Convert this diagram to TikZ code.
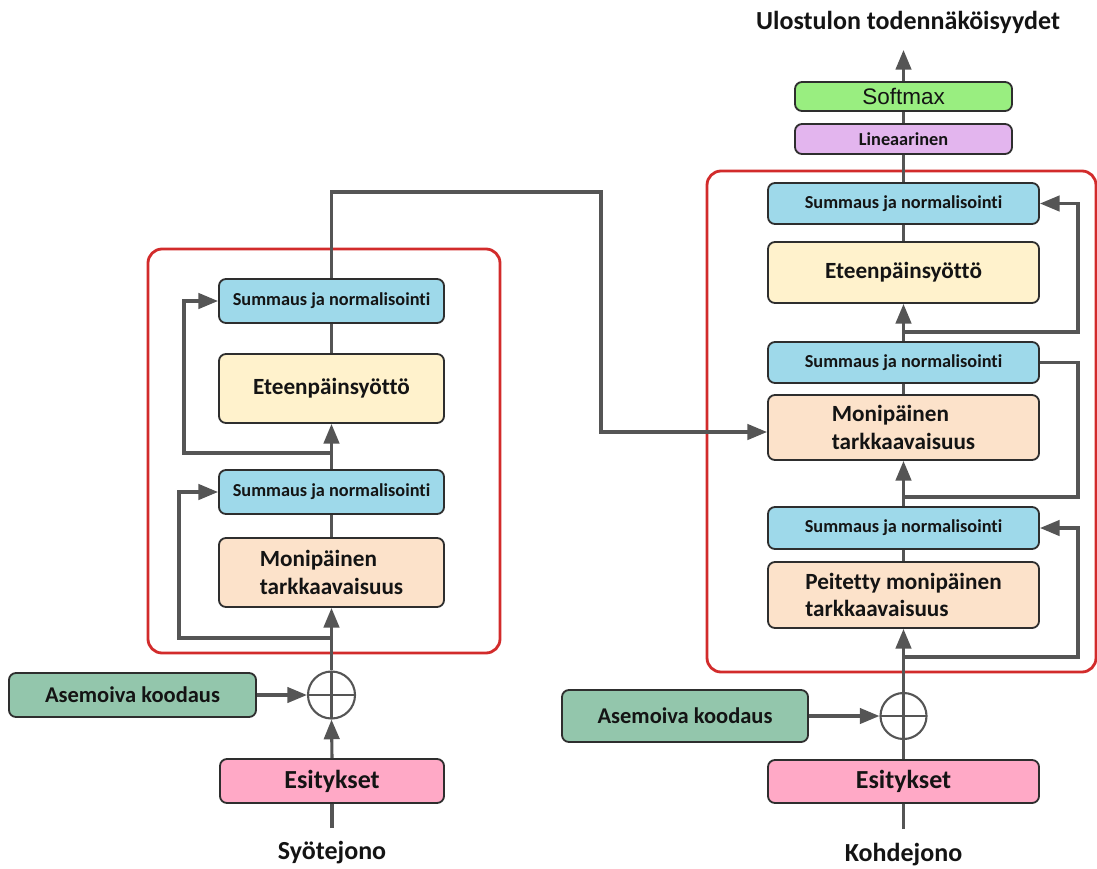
\documentclass[tikz,border=0pt]{standalone}
\usepackage{fontspec}
\setmainfont{Carlito}[Ligatures={NoCommon}]
\newfontfamily\arialfont{Liberation Sans}
\usetikzlibrary{arrows.meta}

\definecolor{snblue}{HTML}{9ED9EA}
\definecolor{ffyellow}{HTML}{FFF2CC}
\definecolor{mhapeach}{HTML}{FCE2CA}
\definecolor{posgreen}{HTML}{93C6AC}
\definecolor{embpink}{HTML}{FFA9C6}
\definecolor{smgreen}{HTML}{99EE80}
\definecolor{linviolet}{HTML}{E3B5EE}
\definecolor{framered}{HTML}{D22B2B}
\definecolor{wire}{HTML}{555555}
\definecolor{boxline}{HTML}{2E2E2E}
\definecolor{txt}{HTML}{141414}

\begin{document}
\begin{tikzpicture}[x=0.025cm,y=-0.025cm,
  box/.style={draw=boxline, line width=1.3pt, rounded corners=5pt, inner sep=0pt,
    text=txt, font=\bfseries\fontsize{16.5}{19.5}\selectfont},
  encbox/.style={box, minimum width=5.625cm},
  decbox/.style={box, minimum width=6.775cm},
  snfont/.style={font=\bfseries\fontsize{13}{15}\selectfont},
  frame/.style={draw=framered, line width=2pt, rounded corners=10pt},
  wireline/.style={draw=wire, line width=2.2pt},
  arr/.style={wireline, -{Triangle[length=14pt,width=11pt]}},
  adder/.style={circle, draw=wire, line width=1.5pt, minimum size=1.175cm, inner sep=0pt,
    path picture={\draw[wire, line width=1.5pt]
      (path picture bounding box.north) -- (path picture bounding box.south)
      (path picture bounding box.west) -- (path picture bounding box.east);}},
  caption/.style={text=txt, font=\bfseries\fontsize{18.5}{22}\selectfont, inner sep=0pt}
]
\useasboundingbox (0,0) rectangle (1097,868);

% layer frames
\draw[frame] (148,249) rectangle (500,653);
\draw[frame] (707,171) rectangle (1096,672);

% ---------- encoder ----------
\node[encbox, snfont, fill=snblue, minimum height=1.1cm] (encSN2) at (331.5,301) {Summaus ja normalisointi};
\node[encbox, fill=ffyellow, minimum height=1.725cm] (encFF) at (331.5,388.5) {Eteenpäinsyöttö};
\node[encbox, snfont, fill=snblue, minimum height=1.1cm] (encSN1) at (331.5,492) {Summaus ja normalisointi};
\node[encbox, fill=mhapeach, minimum height=1.725cm, align=left] (encMHA) at (331.5,572.5) {Monipäinen\\tarkkaavaisuus};
\node[adder] (encAdd) at (331.5,695) {};
\node[box, fill=posgreen, minimum width=6.175cm, minimum height=1.1cm,
      font=\bfseries\fontsize{16}{19}\selectfont] (encPos) at (132.5,695) {Asemoiva koodaus};
\node[box, fill=embpink, minimum width=5.6cm, minimum height=1.1cm,
      font=\bfseries\fontsize{18.5}{22}\selectfont] (encEmb) at (332,781) {Esitykset};
\coordinate (encIn) at (332,828);
\node[caption] (encLabel) at (332,853) {Syötejono};

% ---------- decoder ----------
\node[decbox, snfont, fill=snblue, minimum height=1.025cm] (decSN3) at (903.5,203.5) {Summaus ja normalisointi};
\node[decbox, fill=ffyellow, minimum height=1.525cm] (decFF) at (903.5,272.5) {Eteenpäinsyöttö};
\node[decbox, snfont, fill=snblue, minimum height=1.025cm] (decSN2) at (903.5,362.5) {Summaus ja normalisointi};
\node[decbox, fill=mhapeach, minimum height=1.625cm, align=left] (decMHA) at (903.5,427.5) {Monipäinen\\tarkkaavaisuus};
\node[decbox, snfont, fill=snblue, minimum height=1.05cm] (decSN1) at (903.5,528) {Summaus ja normalisointi};
\node[decbox, fill=mhapeach, minimum height=1.65cm, align=left] (decMMHA) at (903.5,595) {Peitetty monipäinen\\tarkkaavaisuus};
\node[adder, minimum size=1.15cm] (decAdd) at (903.5,716) {};
\node[box, fill=posgreen, minimum width=6.15cm, minimum height=1.3cm,
      font=\bfseries\fontsize{16}{19}\selectfont] (decPos) at (685,716) {Asemoiva koodaus};
\node[decbox, fill=embpink, minimum height=1.075cm,
      font=\bfseries\fontsize{18.5}{22}\selectfont] (decEmb) at (903.5,781.5) {Esitykset};
\coordinate (decIn) at (903.5,829);
\node[caption] (decLabel) at (903.5,855) {Kohdejono};

% output head
\node[box, fill=linviolet, minimum width=5.425cm, minimum height=0.75cm, snfont] (lin) at (903.5,139) {Lineaarinen};
\node[box, fill=smgreen, minimum width=5.425cm, minimum height=0.725cm,
      font=\arialfont\fontsize{16}{19}\selectfont] (soft) at (903.5,96.5) {Softmax};
\coordinate (outTip) at (903.5,50);
\node[caption] (outLabel) at (908,22) {Ulostulon todennäköisyydet};

% ---------- encoder connectors ----------
\coordinate (eBranch1) at (331.5,638);
\coordinate (eLoop1) at (179,638);
\coordinate (eBranch2) at (331.5,453);
\coordinate (eLoop2) at (184,453);
\draw[wireline] (encIn) -- (encEmb.south);
\draw[arr] (encEmb.north) -- (encAdd.south);
\draw[arr] (encPos.east) -- (encAdd.west);
\draw[arr] (encAdd.north) -- (encMHA.south);
\draw[arr] (eBranch1) -- (eLoop1) |- (encSN1.west);
\draw[wireline] (encMHA.north) -- (encSN1.south);
\draw[arr] (encSN1.north) -- (encFF.south);
\draw[arr] (eBranch2) -- (eLoop2) |- (encSN2.west);
\draw[wireline] (encFF.north) -- (encSN2.south);

% encoder output into the decoder's attention
\coordinate (xTop) at (601,192);
\coordinate (xDown) at (601,432);
\draw[arr] (encSN2.north) |- (xTop) -- (xDown) -- (xDown -| decMHA.west);

% ---------- decoder connectors ----------
\coordinate (dBranch1) at (903.5,657);
\coordinate (dLoop1) at (1078,657);
\coordinate (dBranch2) at (903.5,497);
\coordinate (dLoop2) at (1078,497);
\coordinate (dBranch3) at (903.5,332);
\coordinate (dLoop3) at (1078,332);
\draw[wireline] (decIn) -- (decEmb.south);
\draw[wireline] (decEmb.north) -- (decAdd.south);
\draw[arr] (decPos.east) -- (decAdd.west);
\draw[arr] (decAdd.north) -- (decMMHA.south);
\draw[arr] (dBranch1) -- (dLoop1) |- (decSN1.east);
\draw[wireline] (decMMHA.north) -- (decSN1.south);
\draw[arr] (decSN1.north) -- (decMHA.south);
\draw[wireline] (dBranch2) -- (dLoop2) |- (decSN2.east);
\draw[wireline] (decMHA.north) -- (decSN2.south);
\draw[arr] (decSN2.north) -- (decFF.south);
\draw[arr] (dBranch3) -- (dLoop3) |- (decSN3.east);
\draw[wireline] (decFF.north) -- (decSN3.south);
\draw[wireline] (decSN3.north) -- (lin.south);
\draw[wireline] (lin.north) -- (soft.south);
\draw[arr] (soft.north) -- (outTip);
\end{tikzpicture}
\end{document}
